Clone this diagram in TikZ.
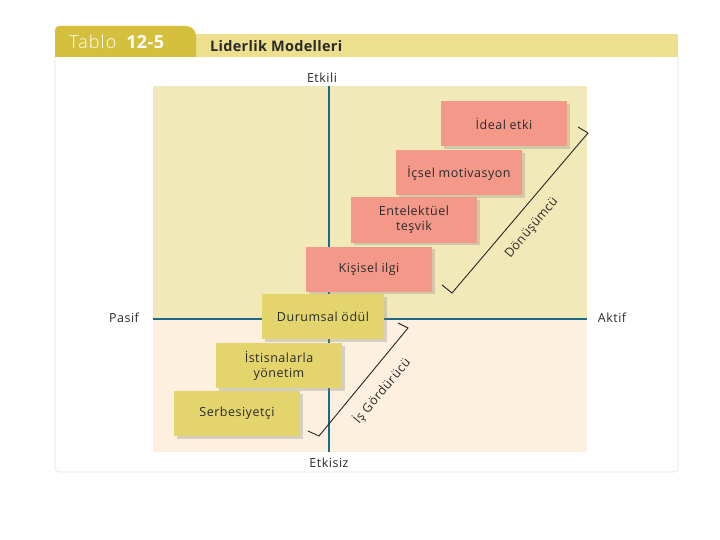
\documentclass[tikz,border=0pt]{standalone}
\usepackage{fontspec}
\setmainfont{Open Sans}
\newfontfamily\spacedfont[LetterSpace=4]{Open Sans}
\newfontfamily\titlefont[LetterSpace=2]{Open Sans}
\newfontfamily\tablofont[LetterSpace=6]{Open Sans Light}
\usetikzlibrary{shadows}
\definecolor{tabdark}{HTML}{D4C03C}
\definecolor{tabbar}{HTML}{EDDF8E}
\definecolor{upperbg}{HTML}{F2E9B8}
\definecolor{lowerbg}{HTML}{FDF0DF}
\definecolor{axisblue}{HTML}{1B6A8C}
\definecolor{pinkbox}{HTML}{F4998A}
\definecolor{yelbox}{HTML}{E3D46C}
\definecolor{framec}{HTML}{E6E2C8}
\definecolor{txt}{HTML}{2A2A2A}
\tikzset{
  modelbox/.style={minimum width=126pt, minimum height=45pt, inner sep=2pt, align=center,
    font=\spacedfont\fontsize{12.5}{15}\selectfont, text=txt,
    drop shadow={opacity=0.3, shadow xshift=2.5pt, shadow yshift=-2.5pt}},
  pinkm/.style={modelbox, fill=pinkbox},
  yelm/.style={modelbox, fill=yelbox},
  axislabel/.style={font=\spacedfont\fontsize{12.5}{15}\selectfont, text=txt},
  sidelabel/.style={font=\spacedfont\fontsize{12.5}{15}\selectfont, text=txt, rotate=50},
  bracketline/.style={draw=black!85, line width=0.9pt},
  axisline/.style={draw=axisblue, line width=2.2pt}
}
\begin{document}
\begin{tikzpicture}[x=1pt,y=-1pt]
\useasboundingbox (0,0) rectangle (720,540);
\fill[white] (0,0) rectangle (720,540);
% frame
\draw[framec, line width=0.6pt, rounded corners=4pt] (55,57) -- (55,472) -- (678,472) -- (678,57);
% header
\fill[tabbar] (196,34) rectangle (678,57);
\fill[tabdark] (55,57) -- (55,30) [rounded corners=4pt] -- (55,26) [rounded corners=10pt] -- (196,26) [sharp corners] -- (196,57) -- cycle;
\node[anchor=west, text=white, font=\fontsize{18}{20}\selectfont, inner sep=0pt] (tablo) at (69,42) {{\tablofont Tablo}\hspace{10pt}{\titlefont\bfseries 12-5}};
\node[anchor=west, text=txt, font=\titlefont\bfseries\fontsize{14.5}{17}\selectfont, inner sep=0pt] (title) at (210,46) {Liderlik Modelleri};
% plot background
\fill[upperbg] (153,86) rectangle (587,319);
\fill[lowerbg] (153,319) rectangle (587,452);
% axes
\coordinate (vtop) at (329,86);
\coordinate (vbot) at (329,452);
\coordinate (hleft) at (153,319);
\coordinate (hright) at (587,319);
\draw[axisline] (vtop) -- (vbot);
\draw[axisline] (hleft) -- (hright);
% axis labels
\node[axislabel] (etkili) at (322,78) {Etkili};
\node[axislabel] (etkisiz) at (329,463) {Etkisiz};
\node[axislabel] (pasif) at (124,318) {Pasif};
\node[axislabel] (aktif) at (612,318) {Aktif};
% boxes
\node[pinkm] (ideal) at (504,124) {İdeal etki};
\node[pinkm] (icsel) at (459,173) {İçsel motivasyon};
\node[pinkm] (entel) at (414,220) {Entelektüel\\teşvik};
\node[pinkm] (kisisel) at (369,269) {Kişisel ilgi};
\node[yelm, minimum width=122pt] (durumsal) at (323,316.5) {Durumsal ödül};
\node[yelm] (istisna) at (279,365.5) {İstisnalarla\\yönetim};
\node[yelm] (serbes) at (237,413.5) {Serbesiyetçi};
% brackets
\coordinate (d1a) at (578,127);
\coordinate (d1) at (588,133);
\coordinate (d2) at (452,293);
\coordinate (d2a) at (442,285);
\draw[bracketline] (d1a) -- (d1) -- (d2) -- (d2a);
\node[sidelabel] (donus) at (532,228) {Dönüşümcü};
\coordinate (g1a) at (398,323);
\coordinate (g1) at (408,328);
\coordinate (g2) at (319,436);
\coordinate (g2a) at (308,431);
\draw[bracketline] (g1a) -- (g1) -- (g2) -- (g2a);
\node[sidelabel] (isgor) at (382,391) {İş Gördürücü};
\end{tikzpicture}
\end{document}
